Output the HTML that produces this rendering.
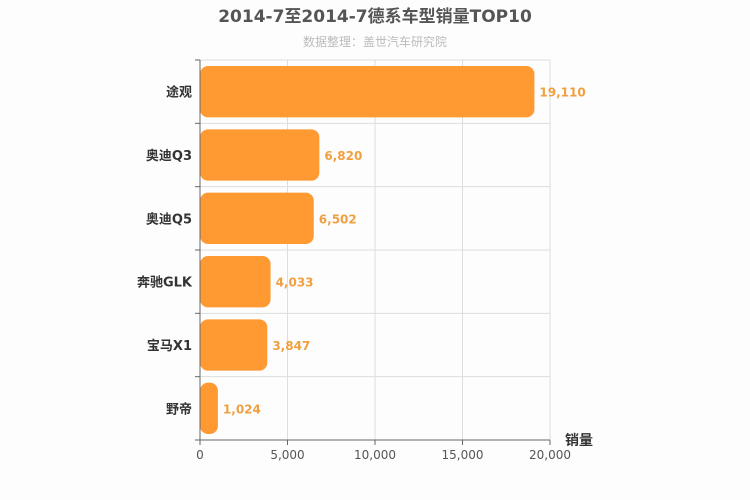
<!DOCTYPE html>
<html><head><meta charset="utf-8"><style>
body{margin:0;background:#fdfdfd;}
svg{display:block;font-family:"DejaVu Sans","Liberation Sans","Noto Sans CJK SC",sans-serif;}
</style></head><body>
<svg id="c" width="750" height="500">
<rect width="750" height="500" fill="#fdfdfd"/>
<text x="375" y="22" text-anchor="middle" font-size="17" font-weight="bold" fill="#555">2014-7至2014-7德系车型销量TOP10</text>
<text x="375" y="46" text-anchor="middle" font-size="12" fill="#bbb">数据整理：盖世汽车研究院</text>
<g id="g"></g>
</svg>
<script>
const categories=["途观","奥迪Q3","奥迪Q5","奔驰GLK","宝马X1","野帝"];
const values=[19110,6820,6502,4033,3847,1024];
const ticks=[0,5000,10000,15000,20000];
const X0=200,X1=550,Y0=60,Y1=440,MAX=20000;
const x=v=>X0+(X1-X0)*v/MAX;
const band=(Y1-Y0)/categories.length;
const y=i=>Y0+band*i;
const g=document.getElementById('g');
const NS="http://www.w3.org/2000/svg";
function mk(t,a){const e=document.createElementNS(NS,t);for(const k in a)e.setAttribute(k,a[k]);g.appendChild(e);return e;}
const fmt=v=>v.toLocaleString('en-US');
ticks.forEach(t=>{
 const l=mk('line',{x1:x(t),x2:x(t),y1:Y0,y2:Y1,stroke:'#ddd'});
 
 
 const tk=mk('line',{x1:x(t),x2:x(t),y1:Y1,y2:Y1+5,stroke:'#666'});
 
 
 const tx=mk('text',{x:x(t),y:Y1+19,'text-anchor':'middle','font-size':12,fill:'#555'});
 tx.textContent=fmt(t);
 
 
});
for(let i=0;i<=categories.length;i++){
 const l=mk('line',{x1:X0,x2:X1,y1:y(i),y2:y(i),stroke:'#ddd'});
 
 
 const tk=mk('line',{x1:X0-5,x2:X0,y1:y(i),y2:y(i),stroke:'#666'});
 
 
}
categories.forEach((c,i)=>{
 const b=mk('rect',{x:X0,y:y(i)+6,width:x(values[i])-X0,height:band-12,rx:8,fill:'#ff9a33'});
 
 
 const cl=mk('text',{x:X0-8,y:y(i)+band/2+5,'text-anchor':'end','font-size':13,'font-weight':'bold',fill:'#333'});
 cl.textContent=c;
 
 
 const vl=mk('text',{x:x(values[i])+5,y:y(i)+band/2+5,'font-size':12,'font-weight':'bold',fill:'#f0a040'});
 vl.textContent=fmt(values[i]);
 
 
});
const ax=mk('line',{x1:X0,x2:X1,y1:Y1,y2:Y1,stroke:'#666'});


const ay=mk('line',{x1:X0,x2:X0,y1:Y0,y2:Y1,stroke:'#666'});


const at=mk('text',{x:565,y:445,'font-size':14,'font-weight':'bold',fill:'#333'});
at.textContent='销量';


</script>
</body></html>
